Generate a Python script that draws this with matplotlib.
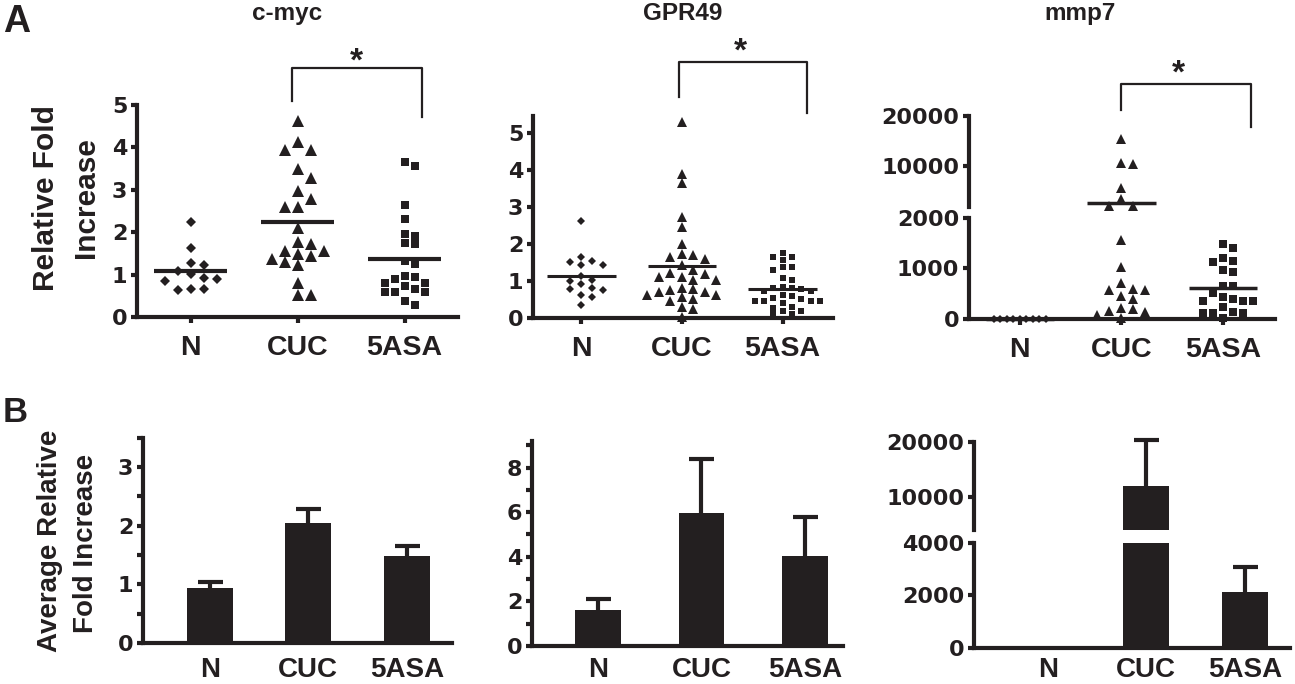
import numpy as np
import matplotlib
matplotlib.use('Agg')
import matplotlib.pyplot as plt
from matplotlib.transforms import blended_transform_factory

plt.rcParams['font.family'] = ['Liberation Sans', 'DejaVu Sans']
plt.rcParams['font.weight'] = 'bold'

INK = '#231f20'
groups = ['N', 'CUC', '5ASA']

# ---- A: per-sample relative fold increase
cmyc_N = [2.23, 1.63, 1.28, 1.23, 1.08, 1.01, 0.93, 0.90, 0.85, 0.65, 0.64, 0.65]
cmyc_CUC = [4.63, 4.12, 3.95, 3.95, 3.48, 3.27, 2.96, 2.78, 2.60, 2.60, 2.11, 1.78,
            1.71, 1.55, 1.55, 1.49, 1.44, 1.36, 1.29, 1.23, 0.81, 0.51, 0.51]
cmyc_5ASA = [3.66, 3.56, 2.63, 2.30, 1.95, 1.91, 1.75, 1.71, 1.33, 1.25, 0.97, 0.95,
             0.89, 0.81, 0.81, 0.73, 0.67, 0.59, 0.59, 0.59, 0.38, 0.29]

gpr_N = [2.61, 1.65, 1.53, 1.51, 1.42, 1.42, 1.14, 1.04, 0.99, 0.92, 0.80, 0.78,
         0.75, 0.61, 0.57, 0.34]
gpr_CUC = [5.31, 3.89, 3.66, 2.73, 2.46, 2.00, 1.73, 1.71, 1.65, 1.59, 1.42, 1.29,
           1.22, 1.20, 1.12, 1.11, 1.04, 1.04, 0.81, 0.78, 0.75, 0.69, 0.69, 0.62,
           0.62, 0.57, 0.51, 0.47, 0.31, 0.24, 0.04]
gpr_5ASA = [1.76, 1.65, 1.65, 1.58, 1.37, 1.37, 1.31, 1.08, 1.04, 0.85, 0.80, 0.80,
            0.78, 0.74, 0.74, 0.62, 0.60, 0.54, 0.51, 0.47, 0.45, 0.45, 0.45, 0.41,
            0.31, 0.28, 0.18, 0.18, 0.12, 0.10]

mmp_N = [6, 3, 9, 4, 2, 7, 5, 3, 8]
mmp_CUC = [15530, 10700, 10390, 5760, 3460, 2140, 2140, 1558, 1032, 704, 592, 572,
           572, 454, 388, 211, 191, 164, 144, 79, 14]
mmp_5ASA = [1479, 1394, 1197, 1150, 1131, 966, 933, 651, 651, 507, 440, 394, 361,
            361, 361, 243, 144, 112, 112, 112, 14]

# ---- B: average relative fold increase + SEM
cmyc_avg = [0.94, 2.04, 1.48]
cmyc_err = [0.10, 0.25, 0.18]
gpr_avg = [1.61, 5.95, 4.04]
gpr_err = [0.49, 2.45, 1.73]
mmp_avg = [50, 12000, 2110]
mmp_err = [0, 8300, 980]

W, H = 1295, 684
fig = plt.figure(figsize=(W / 100, H / 100), dpi=100)


def box(x0, x1, ytop, ybot):
    return fig.add_axes([x0 / W, 1 - ybot / H, (x1 - x0) / W, (ybot - ytop) / H])


def style(ax, ylim, xlim, ticks, minor=None, bottom=True):
    ax.set_ylim(*ylim)
    ax.set_xlim(*xlim)
    ax.patch.set_alpha(0)
    for s in ['top', 'right']:
        ax.spines[s].set_visible(False)
    ax.spines['left'].set_linewidth(3)
    ax.spines['left'].set_color(INK)
    ax.spines['bottom'].set_linewidth(3)
    ax.spines['bottom'].set_color(INK)
    ax.spines['bottom'].set_visible(bottom)
    ax.set_yticks(ticks, [str(int(t)) for t in ticks], fontfamily='DejaVu Sans',
                  fontsize=16, fontweight='bold', color=INK)
    if minor is not None:
        ax.set_yticks(minor, minor=True)
    ax.tick_params(axis='y', which='both', direction='out', length=4, width=3,
                   pad=3, color=INK)
    if not bottom:
        ax.set_xticks([])


def seg_of(segs, v):
    for ax, lo, hi in segs:
        if v <= hi:
            return ax
    return segs[-1][0]


def dot_column(segs, values, center, marker, ms, step, hpx, half=0.34, lw=3):
    vals = np.asarray(values, float)
    axs = [seg_of(segs, v) for v in vals]
    py = np.array([a.transData.transform((center, v))[1] for a, v in zip(axs, vals)])
    a0 = segs[0][0]
    ppu = a0.transData.transform((1, 0))[0] - a0.transData.transform((0, 0))[0]
    placed = []
    offs = np.zeros(len(vals))
    for i in np.argsort(-vals):
        k = 0
        pos = None
        while pos is None:
            for c in ([0.0] if k == 0 else [k * step, -k * step]):
                if all(abs(c - qx) > step * 0.5 or abs(py[i] - qy) >= hpx
                       for qx, qy in placed):
                    pos = c
                    break
            k += 1
        offs[i] = pos
        placed.append((pos, py[i]))
    for a, v, o in zip(axs, vals, offs):
        a.plot(center + o / ppu, v, marker=marker, ms=ms, color=INK, mew=0,
               ls='none', clip_on=False, zorder=3)
    m = vals.mean()
    seg_of(segs, m).hlines(m, center - half, center + half, color=INK, lw=lw,
                           zorder=4, clip_on=False)


def bracket(ax, x0, x1, y_top, y_left, y_right, sx, sy):
    tr = blended_transform_factory(ax.transData, fig.transFigure)
    fy = lambda p: 1 - p / H
    ax.plot([x0, x0, x1, x1], [fy(y_left), fy(y_top), fy(y_top), fy(y_right)],
            transform=tr, color=INK, lw=1.6, clip_on=False)
    ax.text(sx, fy(sy), '*', transform=tr, ha='center', va='center',
            fontsize=24, color=INK)


def xcats(ax, length, pad, size=20.5):
    ax.set_xticks([0, 1, 2], groups, fontsize=size, fontweight='bold', color=INK)
    ax.tick_params(axis='x', direction='out', length=length, width=3, pad=pad,
                   color=INK)


markers = ['D', '^', 's']

# ================= A =================
a1 = box(137, 458, 105, 317)
style(a1, (0, 5), (-0.5, 2.5), [0, 1, 2, 3, 4, 5])
xcats(a1, 4, 9)
for i, (v, ms, st, hp) in enumerate(zip([cmyc_N, cmyc_CUC, cmyc_5ASA],
                                        [5.0, 8.5, 6.0], [13, 13, 10], [10, 11, 8])):
    dot_column([(a1, 0, 5)], v, i, markers[i], ms, st, hp, half=0.34, lw=3)
bracket(a1, 0.95, 2.16, 68, 101, 117, 1.55, 62)

a2 = box(533, 833, 116, 318)
style(a2, (0, 5.46), (-0.48, 2.5), [0, 1, 2, 3, 4, 5])
xcats(a2, 4, 9)
for i, (v, ms, st, hp) in enumerate(zip([gpr_N, gpr_CUC, gpr_5ASA],
                                        [3.6, 6.5, 4.8], [11, 11.5, 9.3], [7, 8.5, 6.5])):
    dot_column([(a2, 0, 5.46)], v, i, markers[i], ms, st, hp, half=0.34, lw=2.2)
bracket(a2, 0.97, 2.24, 62, 97, 113, 1.58, 52)

a3lo = box(969, 1275, 217.7, 319)
a3hi = box(969, 1275, 116, 206.7)
style(a3lo, (0, 2000), (-0.5, 2.51), [0, 1000, 2000])
style(a3hi, (2000, 20000), (-0.5, 2.51), [10000, 20000], bottom=False)
xcats(a3lo, 4, 9)
segs3 = [(a3lo, 0, 2000), (a3hi, 2000, 20000)]
for i, (v, ms, st, hp) in enumerate(zip([mmp_N, mmp_CUC, mmp_5ASA],
                                        [3.8, 7.2, 5.8], [6.5, 12, 10], [6, 9.5, 8])):
    dot_column(segs3, v, i, markers[i], ms, st, hp, half=0.335, lw=2.5)
bracket(a3lo, 1.0, 2.27, 84, 110, 127, 1.56, 74)

# ================= B =================
def bar_panel(axs_segs, avg, err, width):
    x = np.arange(len(avg))
    for ax, lo, hi in axs_segs:
        ax.bar(x, avg, width=width, color=INK, lw=0, zorder=2)
    for i in range(len(avg)):
        if err[i] <= 0:
            continue
        ax = seg_of(axs_segs, avg[i])
        ax.vlines(i, avg[i], avg[i] + err[i], color=INK, lw=3, zorder=1, clip_on=False)
        ax.plot([i], [avg[i] + err[i]], marker='_', ms=18, mew=3, color=INK,
                clip_on=False)


b1 = box(143, 452, 437.6, 643)
style(b1, (0, 3.5), (-0.68, 2.46), [0, 1, 2, 3], minor=[0.5, 1.5, 2.5, 3.5])
xcats(b1, 0, 10, 20)
bar_panel([(b1, 0, 3.5)], cmyc_avg, cmyc_err, 0.47)

b2 = box(532, 843, 440.8, 646)
style(b2, (0, 9.2), (-0.64, 2.37), [0, 2, 4, 6, 8], minor=[1, 3, 5, 7, 9])
xcats(b2, 0, 8, 20)
bar_panel([(b2, 0, 9.2)], gpr_avg, gpr_err, 0.44)

b3lo = box(974, 1290, 542.7, 647.7)
b3hi = box(974, 1290, 441.7, 530)
style(b3lo, (0, 4000), (-0.75, 2.46), [0, 2000, 4000])
style(b3hi, (4000, 20000), (-0.75, 2.46), [10000, 20000], bottom=False)
xcats(b3lo, 0, 7, 20)
bar_panel([(b3lo, 0, 4000), (b3hi, 4000, 20000)], mmp_avg, mmp_err, 0.47)

# ================= text =================
fy = lambda p: 1 - p / H
for name, cx in [('c-myc', 287), ('GPR49', 683), ('mmp7', 1080)]:
    fig.text(cx / W, fy(20), name, ha='center', va='baseline', fontsize=17.5,
             color=INK)
fig.text(3 / W, fy(32), 'A', ha='left', va='baseline', fontsize=27, color=INK)
fig.text(3 / W, fy(422), 'B', ha='left', va='baseline', fontsize=25, color=INK)

fig.text(46 / W, fy(198), 'Relative Fold', rotation=90, ha='center', va='center',
         fontsize=21.5, color=INK)
fig.text(86 / W, fy(198), 'Increase', rotation=90, ha='center', va='center',
         fontsize=21.5, color=INK)
fig.text(50 / W, fy(541), 'Average Relative', rotation=90, ha='center',
         va='center', fontsize=20, color=INK)
fig.text(86 / W, fy(543), 'Fold Increase', rotation=90, ha='center', va='center',
         fontsize=20, color=INK)

fig.savefig('out.png', dpi=100, facecolor='white')
